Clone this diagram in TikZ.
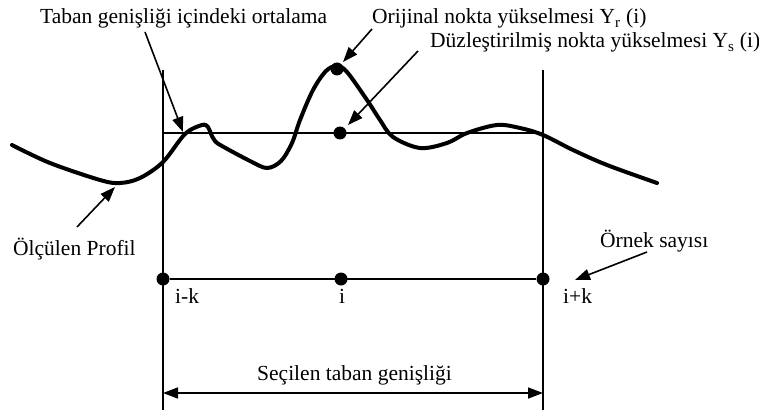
\documentclass[tikz,border=0pt]{standalone}
\usepackage{fontspec}
\setmainfont{Liberation Serif}
\usetikzlibrary{arrows.meta}
\begin{document}
\begin{tikzpicture}[x=1pt,y=-1pt,
  lbl/.style={font=\fontsize{21.5}{24}\selectfont, inner sep=0pt, anchor=base west},
  dotn/.style={circle, fill=black, inner sep=0pt, minimum size=13pt},
  ptr/.style={line width=1.6pt, -{Triangle[length=15pt,width=11pt]}},
  guide/.style={line width=2pt},
  profile/.style={line width=4pt, line cap=round, line join=round}]
\useasboundingbox (0,0) rectangle (759,414);
% guide lines
\coordinate (Lt) at (163,70); \coordinate (Lb) at (163,410);
\coordinate (Rt) at (543,70); \coordinate (Rb) at (543,410);
\draw[guide] (Lt) -- (Lb);
\draw[guide] (Rt) -- (Rb);
\coordinate (Al) at (163,133); \coordinate (Ar) at (543,133);
\draw[line width=1.4pt] (Al) -- (Ar);
% profile
\draw[profile] plot[smooth, tension=0.55] coordinates {
 (12,145) (50,163) (100,180) (120,183) (140,178) (163,162) (185,134) (202,125) (208,127) (211,134) (215,141) (222,146) (250,161) (267,168) (281,161) (292,143) (300,120) (313,90) (326,71) (337,66) (347,72) (367,100) (380,120) (393,137) (420,148) (447,143) (467,133) (497,125) (520,128) (543,135) (573,150) (607,165) (657,183)};
% dots
\node[dotn] (yr) at (337,69) {};
\node[dotn] (ys) at (340,133) {};
\node[dotn] (pk) at (163,279) {};
\node[dotn] (pi) at (341,279) {};
\node[dotn] (pp) at (543,279) {};
\draw[guide] (pk) -- (pp);
% bottom width arrow
\coordinate (Wl) at (163,393); \coordinate (Wr) at (543,393);
\draw[line width=1.6pt, {Triangle[length=15pt,width=11pt]}-{Triangle[length=15pt,width=11pt]}] (Wl) -- (Wr);
% labels
\node[lbl] (tban) at (40,24) {Taban genişliği içindeki ortalama};
\node[lbl] (orj) at (372,24) {Orijinal nokta yükselmesi Y\textsubscript{r} (i)};
\node[lbl] (duz) at (430,48) {Düzleştirilmiş nokta yükselmesi Y\textsubscript{s} (i)};
\node[lbl] (olc) at (13,255) {Ölçülen Profil};
\node[lbl] (orn) at (600,247) {Örnek sayısı};
\node[lbl] (tik) at (175,303) {i-k};
\node[lbl] (ti) at (339,303) {i};
\node[lbl] (tipk) at (563,303) {i+k};
\node[lbl] (sec) at (257,380) {Seçilen taban genişliği};
% pointer arrows
\coordinate (a1s) at (145,32); \coordinate (a1e) at (183,132);
\draw[ptr] (a1s) -- (a1e);
\coordinate (a2s) at (372,29); \coordinate (a2e) at (343,62);
\draw[ptr] (a2s) -- (a2e);
\coordinate (a3s) at (418,51); \coordinate (a3e) at (348,125);
\draw[ptr] (a3s) -- (a3e);
\coordinate (a4s) at (77,227); \coordinate (a4e) at (115,187);
\draw[ptr] (a4s) -- (a4e);
\coordinate (a5s) at (647,252); \coordinate (a5e) at (575,280);
\draw[ptr] (a5s) -- (a5e);
\end{tikzpicture}
\end{document}
